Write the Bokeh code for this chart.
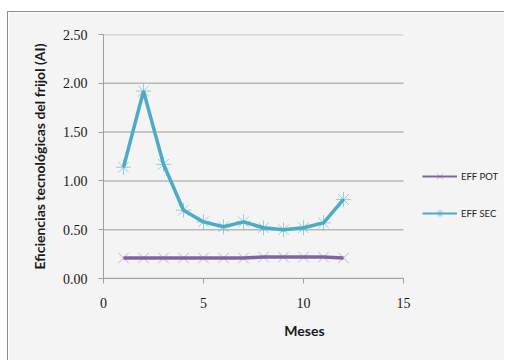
from bokeh.plotting import figure
from bokeh.models import Legend, LegendItem, ColumnDataSource, FixedTicker, NumeralTickFormatter, Range1d
from bokeh.embed import file_html
from bokeh.resources import INLINE

# Data
meses = [1, 2, 3, 4, 5, 6, 7, 8, 9, 10, 11, 12]
eff_pot = [0.21, 0.21, 0.21, 0.21, 0.21, 0.21, 0.21, 0.22, 0.22, 0.22, 0.22, 0.21]
eff_sec = [1.14, 1.92, 1.17, 0.70, 0.58, 0.53, 0.58, 0.52, 0.50, 0.52, 0.57, 0.81]
x_ticks = [0, 5, 10, 15]
y_ticks = [0.0, 0.5, 1.0, 1.5, 2.0, 2.5]
series_names = ["EFF POT", "EFF SEC"]
x_title = "Meses"
y_title = "Eficiencias tecnológicas del frijol (AI)"

POT_C = "#8064a2"
SEC_C = "#4bacc6"
BG = "#f4f4f4"

# frame extends to the right edge (room for the legend); axis/grid limited to 0..15
p = figure(width=497, height=349, output_backend="svg", toolbar_location=None,
           x_range=Range1d(0, 20.1), y_range=Range1d(0, 2.5),
           min_border_left=95, min_border_right=0, min_border_top=22, min_border_bottom=83,
           background_fill_color=BG, border_fill_color=BG)
p.styles = {"margin-left": "7px", "margin-top": "11px",
            "border-left": "1px solid #8c8c8c", "border-top": "1px solid #8c8c8c"}
p.outline_line_color = None

# horizontal gridlines over the axis extent only
n = len(y_ticks)
p.segment(x0=[x_ticks[0]] * n, x1=[x_ticks[-1]] * n, y0=y_ticks, y1=y_ticks,
          line_color="#b8b8b8", line_width=1.5)

src = ColumnDataSource(dict(x=meses, pot=eff_pot, sec=eff_sec))

l1 = p.line("x", "pot", source=src, line_color=POT_C, line_width=3.5)
m1 = p.scatter("x", "pot", source=src, marker="x", size=15, line_color=POT_C, line_alpha=0.45, line_width=1)
l2 = p.line("x", "sec", source=src, line_color=SEC_C, line_width=3.5)
m2 = p.scatter("x", "sec", source=src, marker="asterisk", size=15, line_color=SEC_C, line_alpha=0.55, line_width=1)

# legend-only glyphs (thinner line, small markers); no visible data
nan = float("nan")
dummy = ColumnDataSource(dict(x=[nan], y=[nan]))
lg1 = p.line("x", "y", source=dummy, line_color=POT_C, line_width=2)
lm1 = p.scatter("x", "y", source=dummy, marker="x", size=6, line_color=POT_C, line_alpha=0.5, line_width=1)
lg2 = p.line("x", "y", source=dummy, line_color=SEC_C, line_width=2)
lm2 = p.scatter("x", "y", source=dummy, marker="asterisk", size=6, line_color=SEC_C, line_alpha=0.6, line_width=1)

legend = Legend(items=[LegendItem(label=series_names[0], renderers=[lg1, lm1]),
                       LegendItem(label=series_names[1], renderers=[lg2, lm2])],
                location=(319, 55), padding=0, margin=0, spacing=17,
                glyph_width=35, glyph_height=20, label_standoff=4,
                label_text_font="Lato", label_text_font_size="9.5px", label_text_color="#222222",
                background_fill_alpha=0, border_line_color=None)
p.add_layout(legend, "center")

# axes
p.xaxis.ticker = FixedTicker(ticks=x_ticks)
p.xaxis.bounds = (x_ticks[0], x_ticks[-1])
p.yaxis.ticker = FixedTicker(ticks=y_ticks)
p.yaxis.formatter = NumeralTickFormatter(format="0.00")
for ax in (p.xaxis, p.yaxis):
    ax.axis_line_color = "#a0a0a0"
    ax.axis_line_width = 1
    ax.major_tick_line_color = "#a0a0a0"
    ax.major_tick_out = 5
    ax.major_tick_in = 0
    ax.minor_tick_line_color = None
    ax.major_label_text_font = "Liberation Serif"
    ax.major_label_text_font_size = "14px"
    ax.major_label_text_color = "#1a1a1a"
    ax.axis_label_text_font = "Lato"
    ax.axis_label_text_font_style = "bold"
    ax.axis_label_text_font_size = "14px"
    ax.axis_label_text_color = "#1a1a1a"
p.xaxis.axis_label = x_title
p.yaxis.axis_label = y_title
p.xaxis.major_label_standoff = 14
p.xaxis.axis_label_standoff = 11
p.yaxis.major_label_standoff = 11
p.yaxis.axis_label_standoff = 12

p.xgrid.grid_line_color = None
p.ygrid.grid_line_color = None

open("out.html", "w").write(file_html(p, INLINE))
